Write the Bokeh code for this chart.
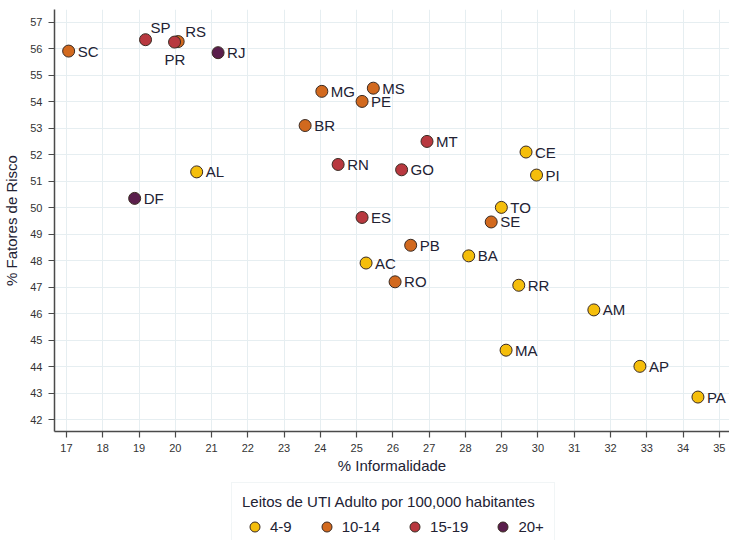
from bokeh.plotting import figure
from bokeh.layouts import column
from bokeh.models import ColumnDataSource, Legend, LegendItem, SingleIntervalTicker
from bokeh.core.properties import value
from bokeh.embed import file_html
from bokeh.resources import INLINE

# ---- data ----
states = ["SC", "SP", "RS", "PR", "RJ", "MG", "MS", "PE", "BR", "MT", "CE", "AL", "RN", "GO", "PI",
          "DF", "TO", "ES", "SE", "PB", "BA", "AC", "RO", "RR", "AM", "MA", "AP", "PA"]
informalidade = [17.06, 19.18, 20.08, 19.98, 21.18, 24.04, 25.46, 25.15, 23.58, 26.94, 29.67, 20.59, 24.49, 26.24, 29.96,
                 18.88, 28.99, 25.15, 28.71, 26.49, 28.09, 25.26, 26.06, 29.47, 31.54, 29.12, 32.81, 34.41]
fatores_risco = [55.91, 56.34, 56.27, 56.25, 55.85, 54.39, 54.51, 54.01, 53.10, 52.50, 52.10, 51.35, 51.63, 51.43, 51.23,
                 50.35, 50.01, 49.63, 49.46, 48.58, 48.18, 47.91, 47.20, 47.07, 46.14, 44.62, 44.01, 42.85]
grupo = ["10-14", "15-19", "10-14", "15-19", "20+", "10-14", "10-14", "10-14", "10-14", "15-19", "4-9", "4-9", "15-19", "15-19", "4-9",
         "20+", "4-9", "15-19", "10-14", "10-14", "4-9", "4-9", "10-14", "4-9", "4-9", "4-9", "4-9", "4-9"]
grupos = ["4-9", "10-14", "15-19", "20+"]
cores = ["#F5BE0B", "#D2691E", "#B8383F", "#5A1E4C"]

# label placement exceptions (pixels)
label_offsets = {"SP": (5, -12), "RS": (7, -10), "PR": (-10, 17)}

FONT = "Liberation Sans"
TXT = "#222233"
EDGE = "#3a2a22"

p = figure(width=729, height=476, x_range=(16.67, 35.28), y_range=(41.55, 57.48),
           output_backend="svg", toolbar_location=None,
           min_border_left=47, min_border_right=0, min_border_top=9, min_border_bottom=44)
p.outline_line_color = None
p.background_fill_color = "white"
p.border_fill_color = "white"

for ax in (p.xaxis[0], p.yaxis[0]):
    ax.ticker = SingleIntervalTicker(interval=1)
    ax.axis_line_color = "#4a4a4a"
    ax.axis_line_width = 1.5
    ax.major_tick_line_color = "#4a4a4a"
    ax.major_tick_line_width = 1.2
    ax.major_tick_out = 6
    ax.major_tick_in = 0
    ax.minor_tick_line_color = None
    ax.major_label_text_font = FONT
    ax.major_label_text_font_size = "11px"
    ax.major_label_text_color = "#333333"
    ax.major_label_standoff = 6
    ax.axis_label_text_font = FONT
    ax.axis_label_text_font_size = "15px"
    ax.axis_label_text_font_style = "normal"
    ax.axis_label_text_color = TXT

p.xaxis.axis_label = "% Informalidade"
p.yaxis.axis_label = "% Fatores de Risco"
p.xaxis.axis_label_standoff = 2
p.yaxis.axis_label_standoff = 7

p.grid.grid_line_color = "#e6eef1"
p.grid.grid_line_width = 1
p.xgrid.ticker = SingleIntervalTicker(interval=1)
p.ygrid.ticker = SingleIntervalTicker(interval=1)

for g, c in zip(grupos, cores):
    idx = [i for i, gg in enumerate(grupo) if gg == g]
    src = ColumnDataSource(dict(x=[informalidade[i] for i in idx], y=[fatores_risco[i] for i in idx]))
    p.scatter("x", "y", source=src, size=12, fill_color=c, line_color=EDGE, line_width=1)

xo = [label_offsets.get(s, (9, 0))[0] for s in states]
yo = [label_offsets.get(s, (9, 0))[1] for s in states]
lsrc = ColumnDataSource(dict(x=informalidade, y=fatores_risco, t=states, xo=xo, yo=yo))
p.text("x", "y", text="t", source=lsrc, x_offset="xo", y_offset="yo",
       text_font=value(FONT), text_font_size="15px", text_color=TXT,
       text_align="left", text_baseline="middle")

# ---- legend panel below ----
lf = figure(width=729, height=64, x_range=(0, 1), y_range=(0, 1),
            output_backend="svg", toolbar_location=None,
            min_border_left=0, min_border_right=0, min_border_top=0, min_border_bottom=0)
lf.axis.visible = False
lf.grid.visible = False
lf.outline_line_color = None
lf.border_fill_color = "white"
lf.background_fill_color = "white"

nan = float("nan")
legend_items = []
for g, c in zip(grupos, cores):
    r = lf.scatter(x=[nan], y=[nan], size=10, fill_color=c, line_color=EDGE, line_width=1)
    legend_items.append(LegendItem(label=g, renderers=[r]))

legend = Legend(items=legend_items, orientation="horizontal", location=(177, -10),
                title="Leitos de UTI Adulto por 100,000 habitantes")
legend.title_text_font = FONT
legend.title_text_font_size = "15px"
legend.title_text_font_style = "normal"
legend.title_text_color = TXT
legend.title_standoff = 4
legend.label_text_font = FONT
legend.label_text_font_size = "15px"
legend.label_text_color = TXT
legend.label_standoff = 3
legend.glyph_width = 25
legend.glyph_height = 25
legend.label_height = 25
legend.spacing = 22
legend.padding = 10
legend.margin = 0
legend.border_line_color = "#e3ebee"
legend.border_line_width = 1
legend.background_fill_color = "white"
lf.add_layout(legend, "center")

layout = column(p, lf, spacing=0)
open("out.html", "w").write(file_html(layout, INLINE))
